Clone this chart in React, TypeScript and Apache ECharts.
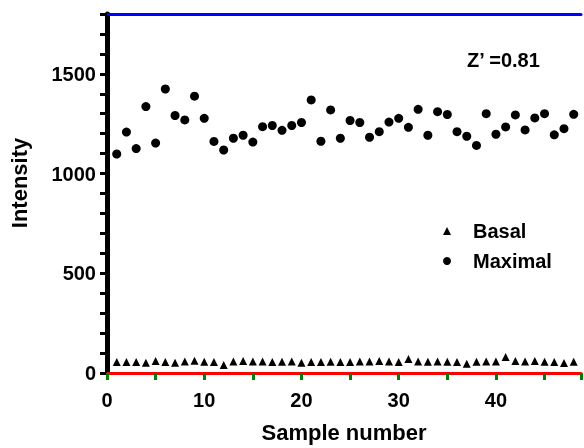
import React, { useEffect, useRef } from "react";
import * as echarts from "echarts";

const samples: number[] = Array.from({ length: 48 }, (_, i) => i + 1);

const maximal: number[] = [
  1098, 1208, 1125, 1336, 1153, 1424, 1291, 1269, 1388, 1277,
  1161, 1118, 1177, 1192, 1158, 1235, 1241, 1217, 1241, 1256,
  1369, 1162, 1319, 1177, 1266, 1256, 1182, 1210, 1258, 1277,
  1232, 1322, 1192, 1310, 1296, 1210, 1187, 1141, 1300, 1197,
  1234, 1294, 1219, 1279, 1300, 1194, 1225, 1297,
];

const basal: number[] = [
  55, 55, 55, 52, 60, 55, 52, 58, 62, 57,
  55, 40, 58, 60, 58, 58, 55, 57, 58, 52,
  55, 55, 57, 55, 55, 58, 58, 60, 58, 55,
  70, 58, 57, 58, 57, 55, 47, 57, 58, 58,
  80, 60, 58, 60, 57, 55, 50, 57,
];

const seriesNames = ["Basal", "Maximal"];
const seriesSymbols = ["triangle", "circle"];
const xLabelsEvery = 10;
const yLabelsEvery = 500;
const zPrime = "Z\u2019 =0.81";

const FONT = "Liberation Sans, Arial, sans-serif";

export default function App() {
  const ref = useRef<HTMLDivElement>(null);
  useEffect(() => {
    if (!ref.current) return;
    const chart = echarts.init(ref.current, null, { renderer: "svg" });
    chart.setOption({
      animation: false,
      title: {
        text: zPrime,
        left: 467,
        top: 50,
        padding: 0,
        textStyle: { fontFamily: FONT, fontSize: 20, fontWeight: "bold", color: "#000" },
      },
      grid: [
        { left: 107, top: 14, right: 0, bottom: 69 },
        { left: 107, top: 0, width: 10, height: 366, show: false },
      ],
      legend: {
        orient: "vertical",
        left: 438,
        top: 216,
        itemWidth: 8,
        itemHeight: 8,
        itemGap: 10,
        data: seriesNames.map((n, i) => ({ name: n, icon: seriesSymbols[i] })),
        textStyle: {
          fontFamily: FONT,
          fontSize: 20,
          fontWeight: "bold",
          color: "#000",
          lineHeight: 20,
          padding: [0, 0, 0, 17],
        },
      },
      xAxis: [
        {
          type: "value",
          gridIndex: 0,
          min: 0,
          max: 48.75,
          interval: 5,
          splitLine: { show: false },
          axisLine: { show: true, onZero: false, lineStyle: { color: "red", width: 3 } },
          axisTick: { show: true, length: 7, lineStyle: { color: "green", width: 3 } },
          axisLabel: {
            margin: 17,
            fontFamily: FONT,
            fontSize: 20,
            fontWeight: "bold",
            color: "#000",
            formatter: (v: number) => (v % xLabelsEvery === 0 ? String(v) : ""),
          },
          name: "Sample number",
          nameLocation: "middle",
          nameGap: 48,
          nameTextStyle: { fontFamily: FONT, fontSize: 22, fontWeight: "bold", color: "#000" },
        },
        {
          type: "value",
          gridIndex: 0,
          position: "top",
          min: 0,
          max: 48.75,
          axisLine: { show: true, onZero: false, lineStyle: { color: "blue", width: 3 } },
          axisTick: { show: false },
          axisLabel: { show: false },
          splitLine: { show: false },
        },
        { type: "value", gridIndex: 1, show: false, min: 0, max: 1 },
      ],
      yAxis: [
        {
          type: "value",
          gridIndex: 0,
          min: 0,
          max: 1800,
          interval: 100,
          splitLine: { show: false },
          axisLine: { show: true, onZero: false, lineStyle: { color: "#000", width: 5 } },
          axisTick: { show: true, length: 7, lineStyle: { color: "#000", width: 3 } },
          axisLabel: {
            margin: 11,
            fontFamily: FONT,
            fontSize: 20,
            fontWeight: "bold",
            color: "#000",
            formatter: (v: number) => (v % yLabelsEvery === 0 && v < 1800 ? String(v) : ""),
          },
        },
        {
          type: "value",
          gridIndex: 1,
          min: 0,
          max: 1,
          axisLine: { show: false },
          axisTick: { show: false },
          axisLabel: { show: false },
          splitLine: { show: false },
          name: "Intensity",
          nameLocation: "middle",
          nameRotate: 90,
          nameGap: 77,
          nameTextStyle: { fontFamily: FONT, fontSize: 22, fontWeight: "bold", color: "#000" },
        },
      ],
      series: [
        {
          name: seriesNames[0],
          type: "scatter",
          xAxisIndex: 0,
          yAxisIndex: 0,
          symbol: seriesSymbols[0],
          symbolSize: 8,
          itemStyle: { color: "#000", opacity: 1 },
          data: samples.map((s, i) => [s, basal[i]]),
        },
        {
          name: seriesNames[1],
          type: "scatter",
          xAxisIndex: 0,
          yAxisIndex: 0,
          symbol: seriesSymbols[1],
          symbolSize: 9,
          itemStyle: { color: "#000", opacity: 1 },
          data: samples.map((s, i) => [s, maximal[i]]),
        },
      ],
    });
    return () => chart.dispose();
  }, []);
  return <div ref={ref} style={{ position: "fixed", left: 0, top: 0, width: 584, height: 448 }} />;
}
